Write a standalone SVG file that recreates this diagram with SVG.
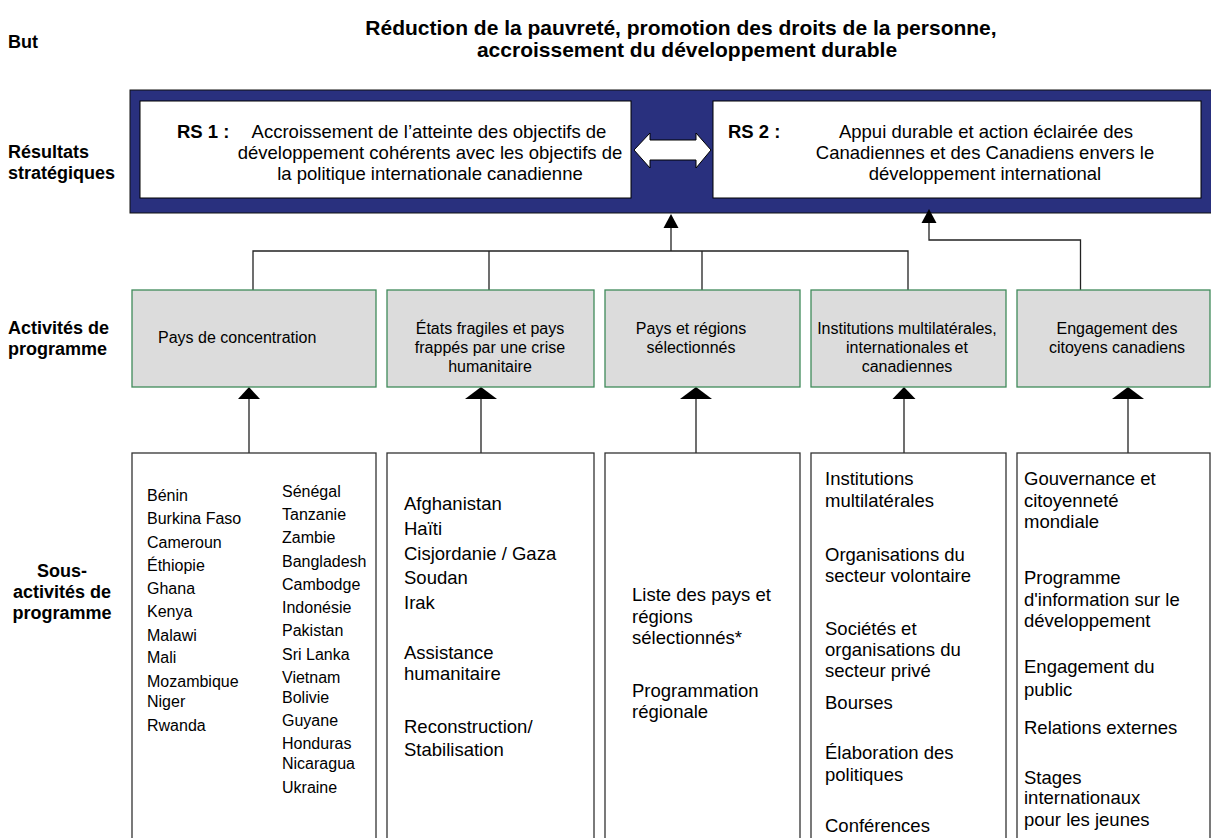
<svg xmlns="http://www.w3.org/2000/svg" width="1211" height="838" viewBox="0 0 1211 838">
<style>
text{font-family:"Liberation Sans",Arial,sans-serif;fill:#000}
.lbl{font-weight:bold;font-size:18px}
.ttl{font-weight:bold;font-size:21px}
.rs{font-size:18.5px}
.rsb{font-size:18.5px;font-weight:bold}
.pa{font-size:16px}
.s16{font-size:16px}
.s18{font-size:18.5px}
.c{text-anchor:middle}
.prog{fill:#dcdcdc;stroke:#3f8a5a;stroke-width:1.3}
.sub{fill:#fff;stroke:#333;stroke-width:1.3}
.ln{fill:none;stroke:#222;stroke-width:1.3}
.ah{fill:#000}
</style>

<g id="labels">
<text class="lbl" x="8" y="48">But</text>
<text class="lbl" x="8" y="158">Résultats</text>
<text class="lbl" x="8" y="179">stratégiques</text>
<text class="lbl" x="8" y="334">Activités de</text>
<text class="lbl" x="8" y="355">programme</text>
<text class="lbl c" x="62" y="577">Sous-</text>
<text class="lbl c" x="62" y="598">activités de</text>
<text class="lbl c" x="62" y="619">programme</text>
</g>

<g id="goal">
<text class="ttl c" x="681" y="35">Réduction de la pauvreté, promotion des droits de la personne,</text>
<text class="ttl c" x="687" y="57">accroissement du développement durable</text>
</g>

<g id="band">
<rect x="130" y="90" width="1082" height="123" fill="#29307e" stroke="#111" stroke-width="1"/>
</g>

<g id="rs1">
<rect x="140" y="101" width="491" height="97" fill="#fff" stroke="#000" stroke-width="1"/>
<text class="rsb" x="177" y="137.5">RS 1 :</text>
<text class="rs c" x="429" y="137.5">Accroissement de l’atteinte des objectifs de</text>
<text class="rs c" x="430" y="158.5">développement cohérents avec les objectifs de</text>
<text class="rs c" x="430" y="179.5">la politique internationale canadienne</text>
</g>

<g id="link-rs1-rs2">
<polygon points="634,150 650,133 650,140 696,140 696,133 711,150 696,168 696,160 650,160 650,168" fill="#fff" stroke="#000" stroke-width="1"/>
</g>

<g id="rs2">
<rect x="713" y="101" width="488" height="97" fill="#fff" stroke="#000" stroke-width="1"/>
<text class="rsb" x="728" y="137.5">RS 2 :</text>
<text class="rs c" x="986" y="137.5">Appui durable et action éclairée des</text>
<text class="rs c" x="985" y="158.5">Canadiennes et des Canadiens envers le</text>
<text class="rs c" x="985" y="179.5">développement international</text>
</g>

<g id="connectors">
<path class="ln" d="M671 251V227"/>
<polygon class="ah" points="671,214 663.5,228 678.5,228"/>
<path class="ln" d="M253 290V251H908V290M489 251V290M702 251V290"/>
<path class="ln" d="M1080.5 290V240H929V222"/>
<polygon class="ah" points="929,209 921.5,223 936.5,223"/>
<path class="ln" d="M249 453V398M481 453V398M696 453V398M904 453V398M1128 453V398"/>
<polygon class="ah" points="249,387 238,399 260,399"/>
<polygon class="ah" points="481,387 465,399 497,399"/>
<polygon class="ah" points="696,387 680,399 712,399"/>
<polygon class="ah" points="904,387 892.5,399 915.5,399"/>
<polygon class="ah" points="1128,387 1112,399 1144,399"/>
</g>

<g id="pa1">
<rect class="prog" x="132" y="290" width="244" height="97"/>
<text class="pa" x="158" y="343">Pays de concentration</text>
</g>
<g id="pa2">
<rect class="prog" x="387" y="290" width="207" height="97"/>
<text class="pa c" x="490" y="334">États fragiles et pays</text>
<text class="pa c" x="490" y="353">frappés par une crise</text>
<text class="pa c" x="490" y="372">humanitaire</text>
</g>
<g id="pa3">
<rect class="prog" x="605" y="290" width="195" height="97"/>
<text class="pa c" x="691" y="334">Pays et régions</text>
<text class="pa c" x="691" y="353">sélectionnés</text>
</g>
<g id="pa4">
<rect class="prog" x="811" y="290" width="195" height="97"/>
<text class="pa c" x="907" y="334">Institutions multilatérales,</text>
<text class="pa c" x="907" y="353">internationales et</text>
<text class="pa c" x="907" y="372">canadiennes</text>
</g>
<g id="pa5">
<rect class="prog" x="1017" y="290" width="193" height="97"/>
<text class="pa c" x="1117" y="334">Engagement des</text>
<text class="pa c" x="1117" y="353">citoyens canadiens</text>
</g>

<g id="spa1">
<rect class="sub" x="132" y="453" width="244" height="390"/>
<g class="s16">
<text x="147" y="501">Bénin</text>
<text x="147" y="524">Burkina Faso</text>
<text x="147" y="548">Cameroun</text>
<text x="147" y="571">Éthiopie</text>
<text x="147" y="594">Ghana</text>
<text x="147" y="617">Kenya</text>
<text x="147" y="641">Malawi</text>
<text x="147" y="663">Mali</text>
<text x="147" y="687">Mozambique</text>
<text x="147" y="707">Niger</text>
<text x="147" y="731">Rwanda</text>
<text x="282" y="497">Sénégal</text>
<text x="282" y="520">Tanzanie</text>
<text x="282" y="543">Zambie</text>
<text x="282" y="567">Bangladesh</text>
<text x="282" y="590">Cambodge</text>
<text x="282" y="613">Indonésie</text>
<text x="282" y="636">Pakistan</text>
<text x="282" y="660">Sri Lanka</text>
<text x="282" y="683">Vietnam</text>
<text x="282" y="703">Bolivie</text>
<text x="282" y="726">Guyane</text>
<text x="282" y="749">Honduras</text>
<text x="282" y="769">Nicaragua</text>
<text x="282" y="793">Ukraine</text>
</g>
</g>

<g id="spa2">
<rect class="sub" x="387" y="453" width="207" height="390"/>
<g class="s18">
<text x="404" y="510">Afghanistan</text>
<text x="404" y="535">Haïti</text>
<text x="404" y="560">Cisjordanie / Gaza</text>
<text x="404" y="584">Soudan</text>
<text x="404" y="609">Irak</text>
<text x="404" y="659">Assistance</text>
<text x="404" y="680">humanitaire</text>
<text x="404" y="733">Reconstruction/</text>
<text x="404" y="756">Stabilisation</text>
</g>
</g>

<g id="spa3">
<rect class="sub" x="605" y="453" width="195" height="390"/>
<g class="s18">
<text x="632" y="601">Liste des pays et</text>
<text x="632" y="623">régions</text>
<text x="632" y="644">sélectionnés*</text>
<text x="632" y="697">Programmation</text>
<text x="632" y="718">régionale</text>
</g>
</g>

<g id="spa4">
<rect class="sub" x="811" y="453" width="195" height="390"/>
<g class="s18">
<text x="825" y="485">Institutions</text>
<text x="825" y="507">multilatérales</text>
<text x="825" y="561">Organisations du</text>
<text x="825" y="582">secteur volontaire</text>
<text x="825" y="635">Sociétés et</text>
<text x="825" y="656">organisations du</text>
<text x="825" y="677">secteur privé</text>
<text x="825" y="709">Bourses</text>
<text x="825" y="759">Élaboration des</text>
<text x="825" y="781">politiques</text>
<text x="825" y="832">Conférences</text>
</g>
</g>

<g id="spa5">
<rect class="sub" x="1017" y="453" width="193" height="390"/>
<g class="s18">
<text x="1024" y="485">Gouvernance et</text>
<text x="1024" y="507">citoyenneté</text>
<text x="1024" y="528">mondiale</text>
<text x="1024" y="584">Programme</text>
<text x="1024" y="606">d'information sur le</text>
<text x="1024" y="627">développement</text>
<text x="1024" y="673">Engagement du</text>
<text x="1024" y="696">public</text>
<text x="1024" y="734">Relations externes</text>
<text x="1024" y="784">Stages</text>
<text x="1024" y="804">internationaux</text>
<text x="1024" y="826">pour les jeunes</text>
</g>
</g>
</svg>
